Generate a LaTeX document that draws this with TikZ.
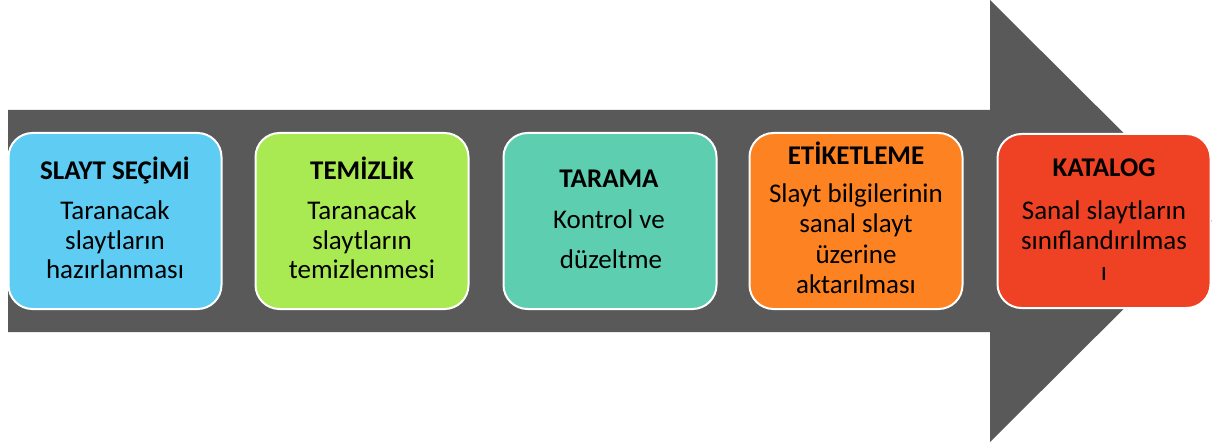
\documentclass[tikz,border=0pt]{standalone}
\usepackage{fontspec}
\setmainfont{Carlito}
\definecolor{arrowgray}{RGB}{89,89,89}
\definecolor{cblue}{RGB}{94,204,243}
\definecolor{cgreen}{RGB}{169,234,82}
\definecolor{cteal}{RGB}{94,206,176}
\definecolor{corange}{RGB}{253,130,33}
\definecolor{cred}{RGB}{239,65,36}
\begin{document}
\begin{tikzpicture}[x=1pt,y=-1pt,
  box/.style={draw=white,line width=2pt,rounded corners=24pt,minimum width=213pt,minimum height=176pt,inner sep=0pt},
  ttl/.style={font=\fontsize{27}{32}\selectfont\bfseries,anchor=base,inner sep=0pt},
  txt/.style={font=\fontsize{27}{32}\selectfont,anchor=base,inner sep=0pt}]
\useasboundingbox (0,0) rectangle (1214,446);
\fill[arrowgray] (8,110) -- (990,110) -- (990,0) -- (1212,221) -- (990,442) -- (990,332) -- (8,332) -- cycle;
\node[box,fill=cblue]   (b1) at (115,221) {};
\node[box,fill=cgreen]  (b2) at (362,221) {};
\node[box,fill=cteal]   (b3) at (610,221) {};
\node[box,fill=corange] (b4) at (856,221) {};
\node[box,fill=cred,minimum height=174pt] (b5) at (1104,221) {};
% box 1
\node[ttl] (t1) at (115,180) {SLAYT SEÇİMİ};
\node[txt] (t1a) at (115,220) {Taranacak};
\node[txt] (t1b) at (115,249) {slaytların};
\node[txt] (t1c) at (115,278) {hazırlanması};
% box 2
\node[ttl] (t2) at (362,180) {TEMİZLİK};
\node[txt] (t2a) at (362,220) {Taranacak};
\node[txt] (t2b) at (362,249) {slaytların};
\node[txt] (t2c) at (362,278) {temizlenmesi};
% box 3
\node[ttl] (t3) at (609,188) {TARAMA};
\node[txt] (t3a) at (609,229) {Kontrol ve};
\node[txt] (t3b) at (611,268) {düzeltme};
% box 4
\node[ttl] (t4) at (856,165) {ETİKETLEME};
\node[txt] (t4a) at (856,203) {Slayt bilgilerinin};
\node[txt] (t4b) at (856,233) {sanal slayt};
\node[txt] (t4c) at (856,263) {üzerine};
\node[txt] (t4d) at (856,293) {aktarılması};
% box 5
\node[ttl] (t5) at (1104,177) {KATALOG};
\node[txt] (t5a) at (1104,220) {Sanal slaytların};
\node[txt] (t5b) at (1104,250) {sınıflandırılmas};
\node[txt] (t5c) at (1104,280) {ı};
\end{tikzpicture}
\end{document}
